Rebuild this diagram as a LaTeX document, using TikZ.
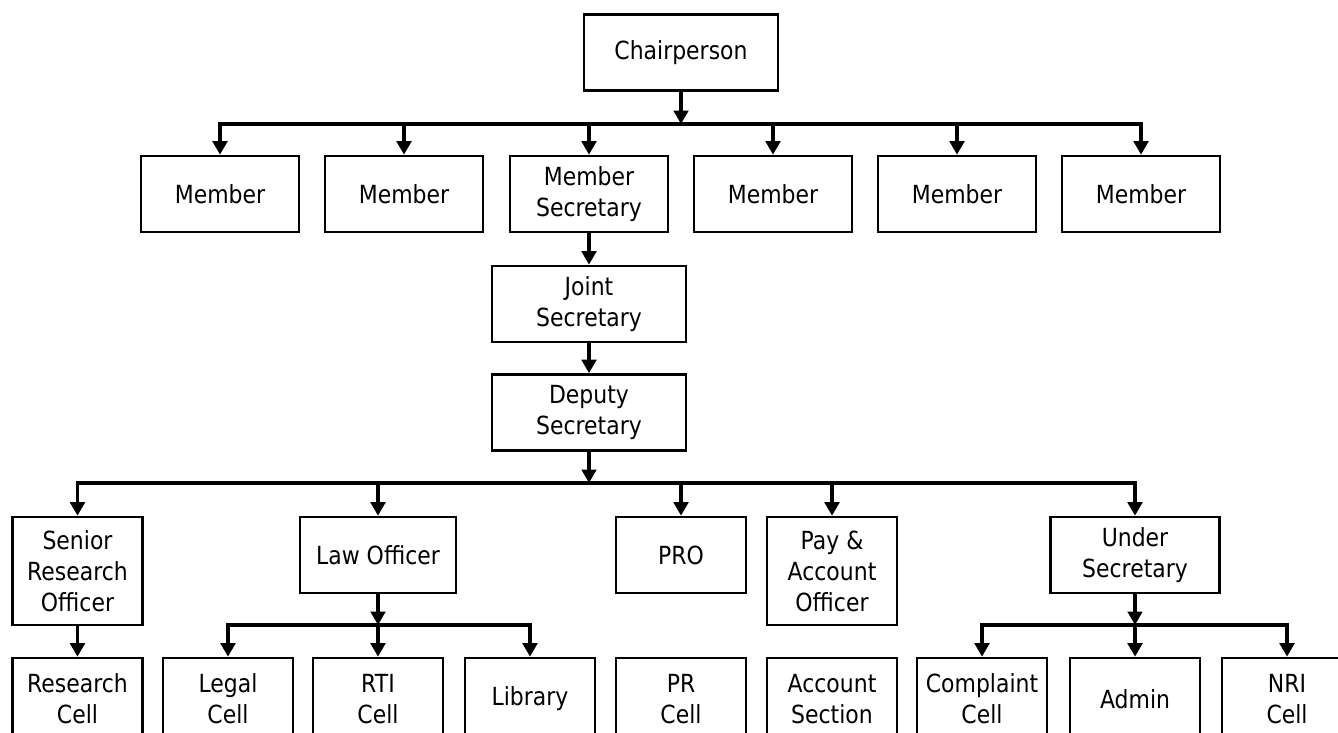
\documentclass[tikz,border=0pt]{standalone}
\usepackage{fontspec}
\setmainfont{DejaVu Sans}[FakeStretch=0.88]
\usetikzlibrary{arrows.meta}

\begin{document}
\begin{tikzpicture}[x=0.02cm, y=-0.02cm,
    box/.style={draw, line width=1.5pt, align=center, inner sep=0pt,
      minimum height=1.52cm, font=\fontsize{14.2}{17.6}\selectfont},
    chairbox/.style={box, minimum width=3.88cm},
    memberbox/.style={box, minimum width=3.16cm},
    officebox/.style={box, minimum width=2.6cm},
    tallbox/.style={officebox, minimum height=2.16cm},
    cellbox/.style={officebox, minimum height=1.64cm},
    link/.style={line width=2pt, line cap=rect},
    arr/.style={link, -{Triangle[length=0.27cm, width=0.29cm]}}]
    \useasboundingbox (0,0) rectangle (1338,733);
    \clip (0,0) rectangle (1338,733);

    \node[chairbox] (chair) at (681,52.5) {Chairperson};

    \node[memberbox] (m1) at (220,194) {Member};
    \node[memberbox] (m2) at (404,194) {Member};
    \node[memberbox] (msec) at (589,194) {Member\\Secretary};
    \node[memberbox] (m4) at (773,194) {Member};
    \node[memberbox] (m5) at (957,194) {Member};
    \node[memberbox] (m6) at (1141,194) {Member};

    \node[chairbox] (joint) at (589,304) {Joint\\Secretary};
    \node[chairbox] (deputy) at (589,412.5) {Deputy\\Secretary};

    \node[tallbox] (sro) at (77.5,571) {Senior\\Research\\Officer};
    \node[officebox, minimum width=3.12cm] (law) at (378,555) {Law Officer};
    \node[officebox] (pro) at (681,555) {PRO};
    \node[tallbox] (pao) at (832,571) {Pay \&\\Account\\Officer};
    \node[officebox, minimum width=3.38cm] (usec) at (1135,555) {Under\\Secretary};

    \node[cellbox] (research) at (77.5,699) {Research\\Cell};
    \node[cellbox] (legal) at (228,699) {Legal\\Cell};
    \node[cellbox] (rti) at (378,699) {RTI\\Cell};
    \node[cellbox] (library) at (530,699) {Library};
    \node[cellbox] (prcell) at (681,699) {PR\\Cell};
    \node[cellbox] (account) at (832,699) {Account\\Section};
    \node[cellbox] (complaint) at (982,699) {Complaint\\Cell};
    \node[cellbox] (admin) at (1135,699) {Admin};
    \node[cellbox] (nri) at (1287,699) {NRI\\Cell};

    \coordinate (bus1) at (681,124);
    \draw[arr] (chair) -- (bus1);
    \draw[link] (m1.north |- bus1) -- (m6.north |- bus1);
    \foreach \n in {m1,m2,msec,m4,m5,m6}
      \draw[arr] (\n.north |- bus1) -- (\n);

    \draw[arr] (msec) -- (joint);
    \draw[arr] (joint) -- (deputy);

    \coordinate (bus2) at (589,483);
    \draw[arr] (deputy) -- (bus2);
    \draw[link] (sro.north |- bus2) -- (usec.north |- bus2);
    \foreach \n in {sro,law,pro,pao,usec}
      \draw[arr] (\n.north |- bus2) -- (\n);

    \draw[arr] (sro) -- (research);

    \coordinate (bus3) at (378,625);
    \draw[arr] (law) -- (bus3);
    \draw[link] (legal.north |- bus3) -- (library.north |- bus3);
    \foreach \n in {legal,rti,library}
      \draw[arr] (\n.north |- bus3) -- (\n);

    \coordinate (bus4) at (1135,625);
    \draw[arr] (usec) -- (bus4);
    \draw[link] (complaint.north |- bus4) -- (nri.north |- bus4);
    \foreach \n in {complaint,admin,nri}
      \draw[arr] (\n.north |- bus4) -- (\n);
\end{tikzpicture}
\end{document}
